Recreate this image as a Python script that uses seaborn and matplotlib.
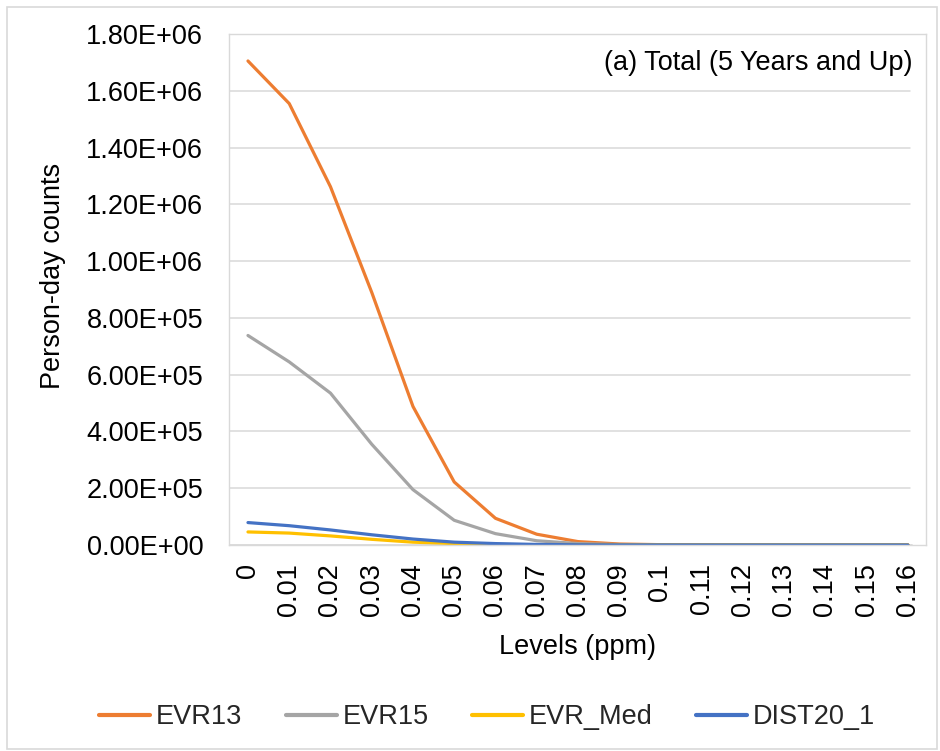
import numpy as np
import pandas as pd
import matplotlib
matplotlib.use("Agg")
import matplotlib.pyplot as plt
from matplotlib.patches import Rectangle
import seaborn as sns

levels = ["0", "0.01", "0.02", "0.03", "0.04", "0.05", "0.06", "0.07", "0.08",
          "0.09", "0.1", "0.11", "0.12", "0.13", "0.14", "0.15", "0.16"]
evr13 = [1.705e6, 1.555e6, 1.262e6, 0.890e6, 0.488e6, 0.222e6, 0.094e6, 0.038e6,
         0.012e6, 3.5e3, 1.2e3, 4e2, 1.5e2, 60, 20, 8, 0]
evr15 = [0.738e6, 0.645e6, 0.535e6, 0.355e6, 0.195e6, 0.087e6, 0.040e6, 0.015e6,
         5e3, 1.5e3, 5e2, 1.5e2, 50, 20, 8, 3, 0]
evr_med = [0.046e6, 0.042e6, 0.032e6, 0.020e6, 0.010e6, 0.005e6, 0.002e6, 8e2,
           3e2, 1e2, 40, 15, 5, 2, 1, 0, 0]
dist20_1 = [0.079e6, 0.068e6, 0.053e6, 0.036e6, 0.021e6, 0.010e6, 0.005e6, 2e3,
            8e2, 3e2, 1e2, 40, 15, 5, 2, 1, 0]
series_names = ["EVR13", "EVR15", "EVR_Med", "DIST20_1"]
colors = ["#ED7D31", "#A5A5A5", "#FFC000", "#4472C4"]
yticks = [0, 2e5, 4e5, 6e5, 8e5, 1.0e6, 1.2e6, 1.4e6, 1.6e6, 1.8e6]

rows = []
for name, vals in zip(series_names, [evr13, evr15, evr_med, dist20_1]):
    for i, v in enumerate(vals):
        rows.append({"pos": i, "value": v, "series": name})
df = pd.DataFrame(rows)

sns.set_theme(style="white")
plt.rcParams["font.family"] = ["Liberation Sans", "DejaVu Sans"]
FS = 19.5

fig = plt.figure(figsize=(9.4, 7.51), dpi=100)
ax = fig.add_axes([229 / 940, 206 / 751, 697 / 940, 511 / 751])

sns.lineplot(data=df, x="pos", y="value", hue="series", hue_order=series_names,
             palette=colors, linewidth=2.3, ax=ax, legend=True)

handles, labels = ax.get_legend_handles_labels()
ax.get_legend().remove()

ax.set_xlim(-0.46, -0.46 + 697 / 41.25)
ax.set_ylim(0, 1.8e6)
ax.set_yticks(yticks)
ax.set_yticklabels([f"{v:.2E}" for v in yticks], fontsize=FS, color="black")
ax.set_xticks(range(len(levels)))
ax.set_xticklabels(levels, rotation=90, fontsize=FS, color="black",
                   ha="center", va="top")
ax.tick_params(axis="y", length=0, pad=18.5)
ax.tick_params(axis="x", length=0, pad=13)

gx_end = (910 - 229) / 697
for v in yticks[1:]:
    ax.axhline(v, xmin=0, xmax=gx_end, color="#D9D9D9", linewidth=1.1, zorder=0)
ax.axhline(0, xmin=0, xmax=(912 - 229) / 697, color="#D9D9D9", linewidth=1.3, zorder=0.5)

for side in ["left", "right", "top", "bottom"]:
    ax.spines[side].set_visible(True)
    ax.spines[side].set_color("#D9D9D9")
    ax.spines[side].set_linewidth(1.0)

ax.set_xlabel("Levels (ppm)", fontsize=FS, color="black")
ax.xaxis.set_label_coords(0.5, -(634 - 545) / 511)
ax.set_ylabel("Person-day counts", fontsize=FS, color="black")
ax.yaxis.set_label_coords(-(229 - 66) / 697, 1 - (276 - 34) / 511)

ax.text((913 - 229) / 697, 1 - (63 - 34) / 511, "(a) Total (5 Years and Up)",
        transform=ax.transAxes, ha="right", va="center", fontsize=FS, color="black")

for h in handles:
    h.set_linewidth(3)
fig.legend(handles, labels, loc="center", bbox_to_anchor=(487 / 940, 1 - 717 / 751),
           ncol=4, frameon=False, fontsize=FS, handlelength=1.9, handletextpad=0.2,
           columnspacing=1.6)

fig.patches.append(Rectangle((7 / 940, 2 / 751), 930 / 940, 742 / 751,
                             transform=fig.transFigure, fill=False,
                             edgecolor="#D9D9D9", linewidth=1.2))

fig.savefig("out.png", dpi=100, facecolor="white")
